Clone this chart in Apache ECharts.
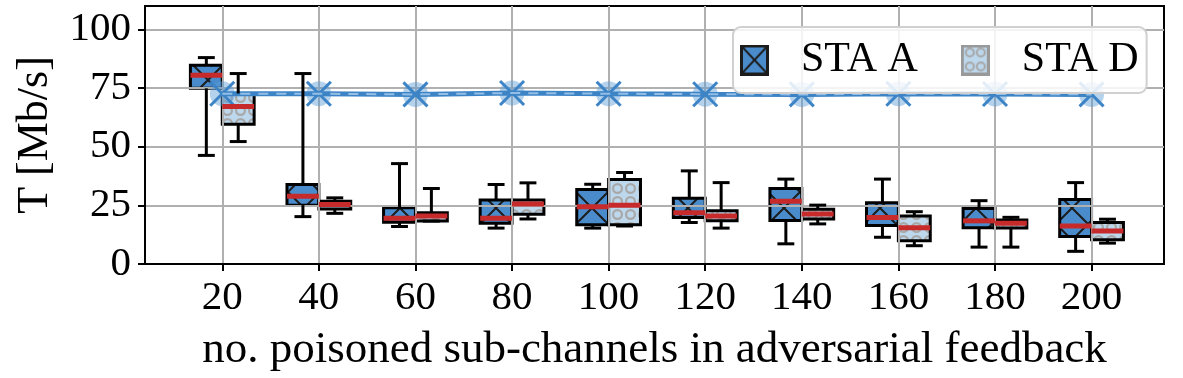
<!DOCTYPE html>
<html>
<head>
<meta charset="utf-8">
<script src="https://cdn.jsdelivr.net/npm/echarts@6/dist/echarts.min.js"></script>
<style>
  html, body { margin: 0; padding: 0; background: #fff; }
  #chart { width: 1183px; height: 378px; }
</style>
</head>
<body>
<div id="chart"></div>
<script>
// x positions (no. poisoned sub-channels)
const positions = [20, 40, 60, 80, 100, 120, 140, 160, 180, 200]
// box stats: [min, q1, median, q3, max]
const staA = [
  [46.3, 74.9, 80.5, 84.7, 88.0],
  [20.2, 25.1, 28.9, 33.9, 81.2],
  [16.0, 17.8, 19.5, 24.0, 42.8],
  [15.3, 17.4, 19.5, 27.3, 33.9],
  [15.3, 16.7, 24.4, 31.8, 34.0],
  [17.7, 19.8, 21.9, 28.0, 39.7],
  [8.6, 18.5, 26.8, 32.2, 36.2],
  [11.4, 16.4, 19.8, 26.1, 36.2],
  [7.2, 15.5, 18.4, 23.7, 27.0],
  [5.4, 11.7, 16.2, 27.5, 34.7]
]
const staD = [
  [52.2, 59.6, 67.2, 72.7, 81.2],
  [21.6, 23.4, 25.4, 26.8, 28.2],
  [18.3, 18.3, 20.5, 21.9, 32.2],
  [19.2, 21.2, 25.6, 27.3, 34.6],
  [16.2, 16.7, 25.1, 36.0, 39.0],
  [15.3, 18.4, 20.5, 22.7, 34.7],
  [17.1, 19.2, 21.3, 23.3, 25.1],
  [7.8, 9.9, 15.5, 20.5, 22.3],
  [7.2, 15.3, 17.4, 18.8, 19.9],
  [8.9, 10.3, 14.1, 17.7, 19.1]
]
// reference throughput line
const refLine = [72.6, 72.6, 72.3, 72.9, 72.6, 72.4, 72.3, 72.6, 72.5, 72.3]
const yTicks = [0, 25, 50, 75, 100]

const boxWidth = 6.6
const capWidth = 3.5
const FONT = "'Liberation Serif', 'DejaVu Serif', serif"

function makeTile(w, h, draw) {
  const c = document.createElement('canvas')
  c.width = w
  c.height = h
  draw(c.getContext('2d'), w, h)
  return c
}

const tileA = makeTile(32, 32, (g, w, h) => {
  g.fillStyle = '#4a8ccb'
  g.fillRect(0, 0, w, h)
  g.strokeStyle = '#1c1c1c'
  g.lineWidth = 2
  g.beginPath()
  g.moveTo(0, 0); g.lineTo(w, h)
  g.moveTo(w, 0); g.lineTo(0, h)
  g.stroke()
})
const tileD = makeTile(13, 13, (g, w, h) => {
  g.fillStyle = '#bdd7ec'
  g.fillRect(0, 0, w, h)
  g.strokeStyle = '#a8a8a8'
  g.lineWidth = 2.2
  g.beginPath()
  g.arc(w / 2, h / 2, 4.4, 0, Math.PI * 2)
  g.stroke()
})

const iconA = makeTile(29, 31, (g, w, h) => {
  g.fillStyle = '#4a8ccb'
  g.fillRect(0, 0, w, h)
  g.strokeStyle = '#1c1c1c'
  g.lineWidth = 2
  g.beginPath()
  g.moveTo(0, 0); g.lineTo(w, h)
  g.moveTo(w, 0); g.lineTo(0, h)
  g.stroke()
  g.lineWidth = 3
  g.strokeRect(1.5, 1.5, w - 3, h - 3)
})
const iconD = makeTile(29, 31, (g, w, h) => {
  g.fillStyle = '#bdd7ec'
  g.fillRect(0, 0, w, h)
  g.strokeStyle = '#a8a8a8'
  g.lineWidth = 2
  ;[[9, 8], [20, 8], [9, 22], [20, 22]].forEach(([cx, cy]) => {
    g.beginPath(); g.arc(cx, cy, 4, 0, Math.PI * 2); g.stroke()
  })
  g.strokeStyle = '#999'
  g.lineWidth = 3
  g.strokeRect(1.5, 1.5, w - 3, h - 3)
})

const boxData = (arr) => positions.map((p, i) => [p].concat(arr[i]))

function boxRender(side, tile) {
  return function (params, api) {
    const x = api.value(0)
    const w = api.size([boxWidth, 0])[0]
    const xc = api.coord([x, 0])[0]
    const x0 = side < 0 ? xc - w : xc
    const yTop = api.coord([x, api.value(4)])[1]
    const yBot = api.coord([x, api.value(2)])[1]
    return {
      type: 'rect',
      shape: {x: x0, y: yTop, width: w, height: yBot - yTop},
      style: {fill: {image: tile, repeat: 'repeat'}, stroke: '#000', lineWidth: 3}
    }
  }
}

function whiskerRender(side) {
  return function (params, api) {
    const x = api.value(0)
    const w = api.size([boxWidth, 0])[0]
    const cw = api.size([capWidth, 0])[0]
    const xc = api.coord([x, 0])[0]
    const x0 = side < 0 ? xc - w : xc
    const xm = x0 + w / 2
    const y = (k) => api.coord([x, api.value(k)])[1]
    const black = {stroke: '#000', lineWidth: 3}
    const ln = (x1, y1, x2, y2, style) => ({type: 'line', shape: {x1, y1, x2, y2}, style})
    return {
      type: 'group',
      children: [
        ln(xm, y(2), xm, y(1), black),
        ln(xm, y(4), xm, y(5), black),
        ln(xm - cw / 2, y(1), xm + cw / 2, y(1), black),
        ln(xm - cw / 2, y(5), xm + cw / 2, y(5), black),
        ln(x0, y(3), x0 + w, y(3), {stroke: '#c62a2a', lineWidth: 5})
      ]
    }
  }
}

function markerRender(params, api) {
  const [cx, cy] = api.coord([api.value(0), api.value(1)])
  const r = 12
  const s = {stroke: '#3d84c6', lineWidth: 3}
  return {
    type: 'group',
    children: [
      {type: 'circle', shape: {cx, cy, r: 12.5}, style: {fill: 'rgba(90,155,215,0.45)'}},
      {type: 'line', shape: {x1: cx - r, y1: cy - r, x2: cx + r, y2: cy + r}, style: s},
      {type: 'line', shape: {x1: cx + r, y1: cy - r, x2: cx - r, y2: cy + r}, style: s}
    ]
  }
}

const lineData = positions.map((p, i) => [p, refLine[i]])

const option = {
  animation: false,
  textStyle: {fontFamily: FONT, color: '#000'},
  grid: {
    left: 145, right: 19, top: 6, bottom: 112,
    show: true, borderColor: '#000', borderWidth: 2, backgroundColor: 'transparent'
  },
  legend: {
    left: 733, top: 27,
    padding: [12, 8, 12, 7],
    backgroundColor: 'rgba(255,255,255,0.85)',
    borderColor: '#d0d0d0', borderWidth: 2, borderRadius: 8,
    itemWidth: 29, itemHeight: 31, itemGap: 43,
    textStyle: {fontFamily: FONT, fontSize: 42, color: '#000', padding: [0, 0, 0, 27]},
    data: [
      {name: 'STA A', icon: 'image://' + iconA.toDataURL()},
      {name: 'STA D', icon: 'image://' + iconD.toDataURL()}
    ]
  },
  xAxis: {
    type: 'value', min: 4, max: 215, z: 1,
    name: 'no. poisoned sub-channels in adversarial feedback',
    nameLocation: 'middle', nameGap: 64,
    nameTextStyle: {fontFamily: FONT, fontSize: 45, color: '#000'},
    axisLine: {show: true, lineStyle: {color: '#000', width: 2}},
    axisTick: {show: true, customValues: positions, length: 7, lineStyle: {color: '#000', width: 2}},
    axisLabel: {customValues: positions, fontFamily: FONT, fontSize: 41, color: '#000', margin: 14},
    splitLine: {show: true, lineStyle: {color: '#b0b0b0', width: 2}}
  },
  yAxis: {
    type: 'value', min: 0, max: 110, z: 1,
    name: 'T [Mb/s]', nameLocation: 'middle', nameRotate: 90, nameGap: 88,
    nameTextStyle: {fontFamily: FONT, fontSize: 44, color: '#000'},
    axisLine: {show: true, lineStyle: {color: '#000', width: 2}},
    axisTick: {show: true, customValues: yTicks, length: 7, lineStyle: {color: '#000', width: 2}},
    axisLabel: {customValues: yTicks, fontFamily: FONT, fontSize: 41, color: '#000', margin: 14},
    splitLine: {show: true, lineStyle: {color: '#b0b0b0', width: 2}}
  },
  series: [
    {
      name: 'STA A', type: 'custom', z: 0, data: boxData(staA),
      encode: {x: 0, y: [1, 5]}, renderItem: boxRender(-1, tileA),
      itemStyle: {color: '#4a8ccb'}
    },
    {
      name: 'STA D', type: 'custom', z: 0, data: boxData(staD),
      encode: {x: 0, y: [1, 5]}, renderItem: boxRender(1, tileD),
      itemStyle: {color: '#bdd7ec'}
    },
    {
      type: 'line', z: 2, data: lineData, symbol: 'none',
      lineStyle: {color: '#3d84c6', width: 5}
    },
    {
      type: 'line', z: 2, data: lineData, symbol: 'none',
      lineStyle: {color: 'rgba(170,205,238,0.8)', width: 2, type: [10, 8]}
    },
    {
      type: 'custom', z: 2, data: lineData, encode: {x: 0, y: 1}, renderItem: markerRender
    },
    {
      type: 'custom', z: 3, data: boxData(staA), encode: {x: 0, y: [1, 5]}, renderItem: whiskerRender(-1)
    },
    {
      type: 'custom', z: 3, data: boxData(staD), encode: {x: 0, y: [1, 5]}, renderItem: whiskerRender(1)
    }
  ]
}

const chart = echarts.init(document.getElementById('chart'))
chart.setOption(option)
</script>
</body>
</html>
